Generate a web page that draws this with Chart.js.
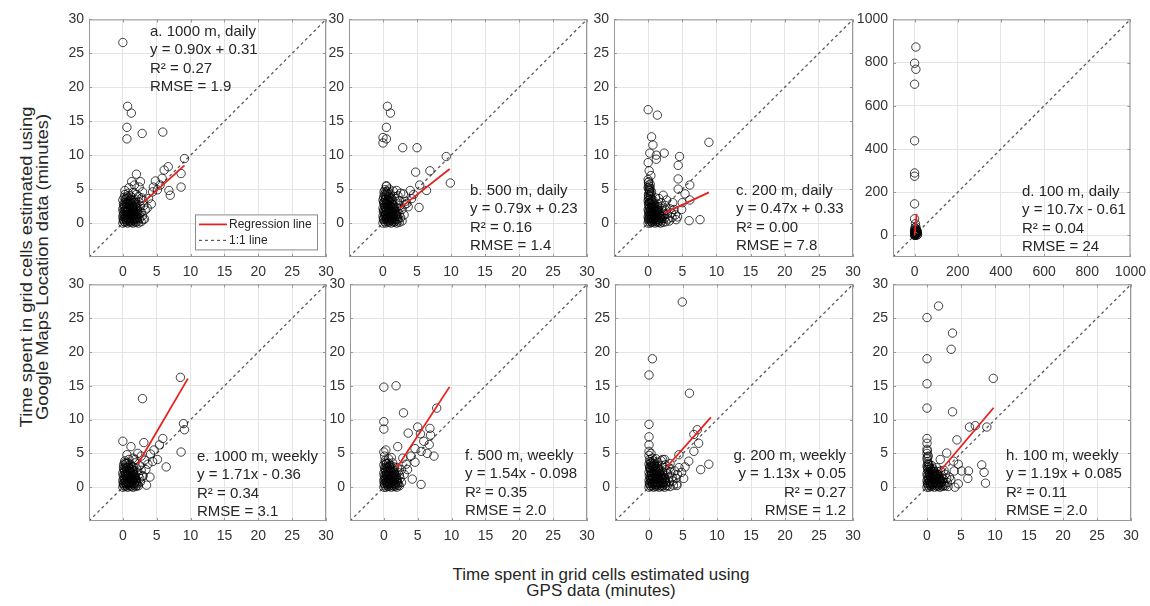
<!DOCTYPE html>
<html>
<head>
<meta charset="utf-8">
<script src="https://cdn.jsdelivr.net/npm/chart.js@4.4.0/dist/chart.umd.min.js"></script>
<style>
  body { margin: 0; width: 1150px; height: 606px; background: #fff; position: relative; overflow: hidden;
         font-family: 'Liberation Sans', Arial, sans-serif; color: #262626; }
  canvas { position: absolute; }
  #xtitle { position: absolute; left: 351px; top: 567px; width: 500px; text-align: center;
            font-size: 17px; line-height: 16px; }
  #ytitle { position: absolute; left: -165px; top: 251px; width: 400px; height: 32px; text-align: center;
            font-size: 17px; line-height: 16px; transform: rotate(-90deg) scaleX(1.08); }
</style>
</head>
<body>
<div id="ytitle">Time spent in grid cells estimated using<br>Google Maps Location data (minutes)</div>
<div id="xtitle">Time spent in grid cells estimated using<br>GPS data (minutes)</div>
<script>
// axis ranges and tick values
const minuteRange = [-5, 30];
const wideRange = [-100, 1000];
const minuteTicks = [0, 5, 10, 15, 20, 25, 30];
const wideTicks = [0, 200, 400, 600, 800, 1000];

// panel captions and fit statistics
const panelLabels = ['a. 1000 m, daily', 'b. 500 m, daily', 'c. 200 m, daily', 'd. 100 m, daily',
                     'e. 1000 m, weekly', 'f. 500 m, weekly', 'g. 200 m, weekly', 'h. 100 m, weekly'];
const eqLabels = ['y = 0.90x + 0.31', 'y = 0.79x + 0.23', 'y = 0.47x + 0.33', 'y = 10.7x - 0.61',
                  'y = 1.71x - 0.36', 'y = 1.54x - 0.098', 'y = 1.13x + 0.05', 'y = 1.19x + 0.085'];
const r2Labels = ['R² = 0.27', 'R² = 0.16', 'R² = 0.00', 'R² = 0.04', 'R² = 0.34', 'R² = 0.35', 'R² = 0.27', 'R² = 0.11'];
const rmseLabels = ['RMSE = 1.9', 'RMSE = 1.4', 'RMSE = 7.8', 'RMSE = 24', 'RMSE = 3.1', 'RMSE = 2.0', 'RMSE = 1.2', 'RMSE = 2.0'];
const slopes = [0.90, 0.79, 0.47, 10.7, 1.71, 1.54, 1.13, 1.19];
const intercepts = [0.31, 0.23, 0.33, -0.61, -0.36, -0.098, 0.05, 0.085];
const fitFrom = [3.0, 2.4, 2.4, 0, 2.2, 1.9, 2.5, 2.0];
const fitTo = [9.1, 9.8, 8.9, 9.4, 9.6, 9.7, 9.1, 9.8];
const legendLabels = ['Regression line', '1:1 line'];

// GPS minutes vs Google Maps minutes, one pair per grid cell
const ptsA = [
  [0,26.6],[0.7,17.2],[1.25,16.2],[0.6,14.1],[0.6,12.4],[2.85,13.2],[5.9,13.4],[9.1,9.5],[6.7,8.3],[6.1,7.8],
  [8.6,7.3],[8.6,5.3],[6.8,4.8],[7.0,4.1],[4.8,6.2],[2.0,7.2],[1.3,6.1],[2.6,6.1],[3.2,0.6],[5.5,5.6],
  [5.1,4.9],[4.4,4.6],[3.8,3.6],[4.2,2.8],[3.6,2.2],[4.5,5.3],[5.8,6.6],[2.4,5.3],[1.7,5.6],[0.9,5.2],
  [0.3,4.8],[2.9,4.6],
  [0,0],[0.3,0.1],[0.7,0],[1.1,0.1],[1.5,0],[1.9,0.1],[2.3,0],[2.7,0.2],
  [0.1,0.5],[0.5,0.4],[0.9,0.6],[1.3,0.4],[1.7,0.6],[2.1,0.5],[2.5,0.7],[3.0,0.5],
  [0,1.0],[0.4,0.9],[0.8,1.1],[1.2,1.0],[1.6,1.2],[2.0,1.0],[2.4,1.3],[2.9,1.1],
  [0.2,1.5],[0.6,1.6],[1.0,1.4],[1.4,1.7],[1.8,1.5],[2.2,1.8],[2.7,1.6],[3.3,1.9],
  [0,2.1],[0.4,2.0],[0.8,2.3],[1.2,2.1],[1.6,2.4],[2.1,2.2],[2.6,2.5],[3.1,2.6],
  [0.2,2.7],[0.6,2.9],[1.0,2.7],[1.5,3.0],[1.9,2.8],[2.4,3.1],[3.0,3.3],
  [0,3.4],[0.5,3.6],[0.9,3.3],[1.3,3.8],[1.8,3.5],[2.3,3.9],[2.8,3.7],
  [0.3,4.2],[0.8,4.4],[1.5,4.5],[2.0,4.2],
  [0.15,0.25],[0.55,0.2],[0.95,0.3],[1.35,0.2],[1.75,0.3],[2.15,0.25],[0.25,0.75],[0.65,0.7],[1.05,0.8],
  [1.45,0.75],[1.85,0.8],[2.25,0.85],[0.1,1.25],[0.5,1.2],[0.9,1.3],[1.3,1.25],[1.7,1.35],[2.1,1.3],
  [0.3,1.8],[0.7,1.85],[1.1,1.8],[1.5,1.9],[1.9,2.0],[0.15,2.4],[0.55,2.45],[0.95,2.5],[1.35,2.35],
  [1.75,2.6],[0.35,3.1],[0.75,3.15],[1.15,3.05],[1.6,3.3],[0.2,3.8],[0.65,3.95],[1.1,4.0],
  [0.05,0.6],[0.45,0.55],[0.85,0.45],[1.25,0.65],[1.65,0.5],[2.05,0.7],[0.3,1.1],[0.7,1.25],[1.1,1.15],
  [1.5,1.05],[1.9,1.2],[0.05,1.7],[0.45,1.65],[0.85,1.75],[1.25,1.6],[1.65,1.8],[2.05,1.65],[0.3,2.25],
  [0.7,2.15],[1.1,2.3],[1.5,2.2],[1.95,2.45],[0.1,2.85],[0.5,2.8],[0.9,2.95],[1.3,2.85],[1.75,3.05],
  [0.4,3.5],[0.8,3.7],[1.2,3.45]
];
const ptsB = [
  [0.65,17.2],[1.1,16.2],[0.5,14.1],[0,12.6],[0.5,12.4],[0,11.8],[2.9,11.1],[5.0,11.1],[9.3,9.8],[9.9,5.9],
  [6.9,7.7],[4.8,7.5],[5.4,5.6],[6.4,4.8],[5.3,2.3],[3.7,2.4],[0.5,5.5],[3.0,4.3],[4.2,3.6],[3.3,3.2],
  [2.6,4.4],[4.5,4.2],[3.5,2.9],[4.0,4.8],
  [0,0],[0.4,0],[0.8,0.1],[1.2,0],[1.6,0.1],[2.0,0],[2.4,0.1],[2.8,0.3],
  [0.1,0.5],[0.5,0.6],[0.9,0.4],[1.3,0.6],[1.7,0.5],[2.2,0.6],[2.6,0.8],
  [0,1.0],[0.3,1.1],[0.7,0.9],[1.1,1.2],[1.5,1.0],[1.9,1.1],[2.4,1.3],[3.1,1.2],
  [0.2,1.6],[0.6,1.5],[1.0,1.7],[1.4,1.6],[1.8,1.8],[2.2,1.7],[2.8,2.0],
  [0,2.2],[0.4,2.1],[0.8,2.3],[1.2,2.2],[1.6,2.5],[2.0,2.3],[2.5,2.6],[3.2,2.7],
  [0.2,2.8],[0.6,2.9],[1.0,3.0],[1.4,2.8],[1.9,3.2],[2.4,3.3],
  [0,3.4],[0.4,3.6],[0.8,3.5],[1.2,3.7],[1.7,3.9],[2.2,4.0],
  [0.2,4.2],[0.6,4.4],[1.1,4.3],[0.3,4.9],[0.9,5.0],[1.5,4.7],[0.5,5.4],[2.0,4.8],
  [0.2,0.25],[0.6,0.3],[1.0,0.2],[1.4,0.3],[1.8,0.25],[2.2,0.3],[0.15,0.8],[0.55,0.75],[0.95,0.85],
  [1.35,0.8],[1.75,0.9],[2.15,0.95],[0.4,1.35],[0.8,1.4],[1.2,1.3],[1.6,1.45],[2.0,1.4],[0.1,1.9],
  [0.5,1.85],[0.9,2.0],[1.3,1.95],[1.7,2.1],[0.25,2.5],[0.65,2.6],[1.05,2.55],[1.45,2.65],[0.15,3.1],
  [0.55,3.2],[0.95,3.3],[1.4,3.35],[0.1,3.8],[0.5,3.95],[0.9,3.9],[0.15,4.6],[0.7,4.7],
  [0.05,0.6],[0.45,0.5],[0.85,0.6],[1.25,0.45],[1.65,0.65],[2.05,0.55],[0.3,1.2],[0.7,1.15],[1.1,1.05],
  [1.5,1.2],[1.9,1.25],[0.05,1.65],[0.45,1.75],[0.85,1.6],[1.25,1.8],[1.65,1.7],[0.3,2.3],[0.7,2.2],
  [1.1,2.35],[1.5,2.3],[0.1,2.95],[0.45,2.85],[0.85,2.75],[1.25,3.0],[0.3,3.45],[0.7,3.3],[1.05,3.55],
  [0.35,4.05],[0.8,4.15],[0.45,4.6]
];
const ptsC = [
  [0,16.7],[1.35,15.9],[0.5,12.7],[0.7,11.5],[0.25,10.3],[1.2,10.0],[1.2,9.4],[2.35,10.3],[0,8.9],[0.15,7.7],
  [4.6,9.8],[4.4,8.5],[4.4,6.5],[6.1,5.6],[8.9,11.9],[4.4,5.0],[5.4,4.3],[6.1,3.4],[4.9,2.0],[4.1,0.5],
  [6.0,0.35],[7.6,0.5],[2.2,4.1],[0,6.4],[0.4,7.0],[5.0,3.0],[3.6,3.0],
  [0,0],[0.3,0],[0.6,0.1],[1.0,0],[1.4,0.1],[1.8,0],[2.2,0.1],[2.6,0.2],[3.1,0.3],
  [0.1,0.5],[0.4,0.4],[0.8,0.6],[1.2,0.5],[1.6,0.4],[2.0,0.6],[2.4,0.7],[2.9,0.6],[3.5,0.8],
  [0,0.9],[0.3,1.0],[0.7,1.1],[1.1,0.9],[1.5,1.1],[1.9,1.0],[2.3,1.2],[2.8,1.3],[3.4,1.5],[4.0,1.2],
  [0.2,1.5],[0.5,1.6],[0.9,1.4],[1.3,1.7],[1.7,1.5],[2.1,1.8],[2.6,1.9],[3.2,2.1],
  [0,2.0],[0.4,2.1],[0.8,2.3],[1.2,2.0],[1.6,2.4],[2.0,2.2],[2.5,2.6],
  [0.1,2.7],[0.5,2.6],[0.9,2.9],[1.4,2.8],[1.9,3.0],
  [0,3.3],[0.3,3.5],[0.7,3.4],[1.1,3.7],[0.1,4.0],[0.4,4.3],[0.2,4.8],[0,5.2],[0.3,5.7],[0.1,6.1],
  [0.5,4.6],[1.6,3.6],[0.2,3.0],[3.8,2.0],[4.3,0.9],[2.7,3.4],
  [0.15,0.25],[0.5,0.2],[0.85,0.3],[1.2,0.25],[1.6,0.2],[2.0,0.3],[0.2,0.75],[0.55,0.8],[0.95,0.75],
  [1.3,0.85],[1.7,0.8],[2.1,0.9],[0.1,1.25],[0.45,1.3],[0.85,1.2],[1.2,1.3],[1.6,1.35],[0.3,1.8],
  [0.7,1.85],[1.05,1.75],[1.45,1.9],[0.15,2.35],[0.6,2.4],[1.0,2.45],[0.25,3.0],[0.6,3.1],[0.05,3.7],
  [0.35,4.0],[0.15,4.45],[0.05,5.6],[0.3,5.1],
  [0.05,0.6],[0.4,0.65],[0.75,0.5],[1.1,0.7],[1.45,0.55],[1.85,0.7],[0.25,1.1],[0.6,1.2],[1.0,1.05],
  [1.35,1.15],[1.75,1.1],[0.05,1.7],[0.4,1.75],[0.75,1.65],[1.15,1.85],[0.2,2.2],[0.55,2.25],[0.9,2.15],
  [1.35,2.3],[0.05,2.9],[0.4,2.85],[0.75,2.7],[0.15,3.5],[0.5,3.45],[0.05,4.2],[0.25,4.7],[0.1,5.0],
  [0.2,5.4],[0.05,6.0]
];
const ptsD = [
  [6,872],[0,797],[6,769],[0,700],[0,438],[0,289],[0,274],[0,146],[0,77],[4,54],
  [0,0],[3,3],[7,6],[10,1],[14,4],[2,12],[8,14],[12,18],[5,22],[0,25],[9,28],[2,35],[6,40],[1,8],[4,1],
  [1,2],[5,9],[11,10],[3,16],[7,20],[13,12],[0,18],[4,30],[10,22],[2,6]
];
const ptsE = [
  [8.5,16.25],[2.9,13.1],[8.95,9.4],[9.1,8.5],[8.6,5.2],[6.4,3.0],[0,6.8],[1.2,6.0],[3.1,6.6],[5.9,7.2],
  [5.4,6.25],[4.6,5.5],[4.1,4.9],[2.7,4.6],[1.8,4.1],[5.1,4.1],[3.7,3.4],[3.0,1.7],[3.4,2.6],[4.4,3.8],
  [3.2,4.0],[2.2,5.0],[0.6,4.8],[4.0,1.5],[3.5,0.3],
  [0,0],[0.3,0.1],[0.7,0],[1.1,0.1],[1.5,0],[1.9,0.1],[2.3,0.2],
  [0.1,0.5],[0.5,0.4],[0.9,0.6],[1.3,0.5],[1.7,0.6],[2.1,0.5],[2.6,0.8],
  [0,1.0],[0.4,0.9],[0.8,1.1],[1.2,1.0],[1.6,1.2],[2.0,1.0],[2.5,1.3],
  [0.2,1.5],[0.6,1.6],[1.0,1.4],[1.4,1.7],[1.8,1.5],[2.3,1.8],[2.9,1.6],
  [0,2.1],[0.4,2.0],[0.8,2.3],[1.2,2.1],[1.6,2.4],[2.1,2.2],[2.7,2.5],
  [0.2,2.7],[0.6,2.9],[1.0,2.7],[1.5,3.0],[2.0,2.8],[2.5,3.2],
  [0.1,3.3],[0.5,3.5],[1.1,3.4],[1.8,3.6],[0.3,3.9],[0.9,4.1],[1.5,4.3],
  [0.15,0.25],[0.5,0.2],[0.9,0.3],[1.3,0.2],[1.7,0.3],[2.1,0.25],[0.25,0.75],[0.65,0.7],[1.05,0.8],
  [1.45,0.85],[1.85,0.8],[0.15,1.25],[0.55,1.3],[0.95,1.2],[1.35,1.35],[1.75,1.3],[0.35,1.8],[0.75,1.85],
  [1.15,1.75],[1.55,1.95],[0.2,2.4],[0.6,2.45],[1.0,2.35],[1.4,2.55],[0.35,3.0],[0.8,3.15],[0.25,3.6],
  [0.05,0.6],[0.45,0.55],[0.85,0.45],[1.25,0.65],[1.65,0.5],[2.05,0.7],[0.3,1.1],[0.7,1.25],[1.1,1.15],
  [1.5,1.05],[1.9,1.2],[0.05,1.7],[0.45,1.65],[0.85,1.75],[1.25,1.6],[1.65,1.8],[0.3,2.25],[0.7,2.15],
  [1.1,2.3],[1.5,2.2],[0.1,2.85],[0.5,2.8],[0.9,2.95],[1.3,2.85],[0.4,3.45],[0.75,3.55]
];
const ptsF = [
  [0,14.8],[1.8,15.0],[0,9.7],[0,8.6],[2.9,11.0],[7.8,11.7],[3.6,8.0],[5.0,8.9],[5.4,7.9],[6.8,8.7],
  [6.9,7.7],[6.7,6.3],[5.5,5.3],[6.4,5.0],[7.4,4.6],[2.05,6.0],[0.3,5.5],[4.0,4.6],[3.3,3.4],[4.2,1.2],
  [5.5,0.4],[3.5,2.6],[0,5.2],[2.8,4.3],[4.6,3.7],[3.0,1.9],[4.6,5.7],[5.9,6.8],
  [0,0],[0.3,0],[0.7,0.1],[1.1,0],[1.5,0.1],[1.9,0],[2.3,0.2],
  [0.1,0.5],[0.5,0.4],[0.9,0.6],[1.3,0.5],[1.7,0.4],[2.1,0.6],[2.6,0.7],
  [0,1.0],[0.4,0.9],[0.8,1.1],[1.2,1.0],[1.6,1.2],[2.0,1.0],[2.4,1.3],
  [0.2,1.5],[0.6,1.6],[1.0,1.4],[1.4,1.7],[1.8,1.5],[2.3,1.8],
  [0,2.1],[0.4,2.0],[0.8,2.3],[1.2,2.1],[1.6,2.4],[2.1,2.2],[2.6,2.6],
  [0.2,2.7],[0.6,2.9],[1.0,2.7],[1.5,3.0],[2.0,2.9],
  [0,3.3],[0.4,3.5],[0.9,3.3],[1.3,3.6],[0.2,4.0],[0.7,4.2],[0.1,4.6],[1.1,4.4],
  [0.15,0.25],[0.55,0.2],[0.95,0.3],[1.35,0.25],[1.75,0.2],[2.1,0.3],[0.25,0.75],[0.65,0.8],[1.05,0.7],
  [1.45,0.85],[1.85,0.8],[0.1,1.25],[0.5,1.3],[0.9,1.2],[1.3,1.35],[1.7,1.3],[0.35,1.8],[0.75,1.85],
  [1.15,1.75],[1.55,1.95],[0.2,2.4],[0.6,2.45],[1.0,2.35],[1.4,2.5],[0.35,3.0],[0.8,3.1],[0.2,3.7],
  [0.05,0.6],[0.45,0.55],[0.8,0.45],[1.2,0.65],[1.6,0.55],[2.0,0.7],[0.3,1.15],[0.7,1.2],[1.1,1.1],
  [1.5,1.05],[1.9,1.2],[0.05,1.7],[0.45,1.65],[0.85,1.75],[1.25,1.6],[1.65,1.8],[0.3,2.25],[0.7,2.15],
  [1.1,2.3],[1.5,2.2],[0.1,2.85],[0.5,2.8],[0.9,2.95],[1.3,2.85],[0.35,3.45],[0.7,3.55]
];
const ptsG = [
  [4.9,27.4],[0.5,19.0],[0,16.6],[5.95,13.9],[0,9.3],[0,7.45],[0,6.25],[0,5.3],[8.8,3.4],[7.6,2.6],
  [7.3,6.5],[6.6,5.3],[6.6,7.8],[7.1,8.5],[5.85,3.85],[4.4,4.8],[5.1,1.3],[4.1,0.25],[2.0,4.1],[5.3,3.0],
  [4.8,2.2],
  [0,0],[0.3,0.1],[0.7,0],[1.1,0.1],[1.5,0],[1.9,0.1],[2.3,0],[2.7,0.2],[3.1,0.1],[3.6,0.3],[4.1,0.5],
  [0.1,0.5],[0.5,0.6],[0.9,0.4],[1.3,0.6],[1.7,0.5],[2.1,0.7],[2.5,0.6],[3.0,0.8],[3.5,0.9],
  [0,1.0],[0.4,1.1],[0.8,0.9],[1.2,1.2],[1.6,1.0],[2.0,1.2],[2.4,1.1],[2.9,1.4],[3.4,1.5],[4.0,1.3],
  [0.2,1.6],[0.6,1.5],[1.0,1.7],[1.4,1.6],[1.8,1.8],[2.2,1.7],[2.7,2.0],[3.2,2.2],[3.8,2.4],
  [0,2.2],[0.4,2.1],[0.8,2.3],[1.2,2.2],[1.6,2.5],[2.0,2.3],[2.5,2.6],[3.0,2.8],
  [0.2,2.8],[0.6,2.9],[1.0,3.0],[1.4,2.8],[1.9,3.2],[2.4,3.3],[3.1,3.5],
  [0,3.4],[0.4,3.6],[0.8,3.5],[1.3,3.7],[1.8,3.9],[2.3,4.1],
  [0.1,4.1],[0.5,4.3],[0,4.7],[0.3,5.0],[0.1,3.0],[4.4,2.9],[4.2,1.9],[1.0,4.2],
  [0.15,0.25],[0.5,0.3],[0.9,0.2],[1.3,0.3],[1.7,0.25],[2.1,0.3],[2.5,0.25],[0.25,0.8],[0.65,0.75],
  [1.05,0.85],[1.45,0.8],[1.85,0.9],[2.25,0.85],[0.15,1.3],[0.55,1.35],[0.95,1.25],[1.35,1.4],[1.75,1.35],
  [2.2,1.4],[0.35,1.85],[0.75,1.9],[1.15,1.95],[1.6,2.0],[0.2,2.5],[0.6,2.55],[1.0,2.45],[1.4,2.6],
  [0.35,3.2],[0.8,3.2],[0.15,3.8],[0.6,3.9],
  [0.05,0.6],[0.45,0.55],[0.85,0.65],[1.25,0.45],[1.65,0.7],[2.05,0.55],[2.45,0.75],[0.3,1.1],[0.7,1.25],
  [1.1,1.15],[1.5,1.05],[1.9,1.3],[2.3,1.2],[0.05,1.7],[0.45,1.65],[0.85,1.8],[1.25,1.7],[1.65,1.75],
  [2.05,1.9],[0.3,2.25],[0.7,2.15],[1.1,2.35],[1.5,2.3],[0.1,2.85],[0.5,3.05],[0.9,2.75],[1.3,3.1],
  [0.25,3.55],[0.65,3.45]
];
const ptsH = [
  [1.7,26.8],[0,25.1],[3.75,22.8],[3.55,20.4],[0,19.0],[0,15.3],[0,11.7],[3.75,11.15],[9.75,16.1],[6.25,8.9],
  [7.1,9.1],[8.8,8.9],[4.4,7.0],[2.9,5.05],[1.95,4.1],[4.6,3.4],[5.1,2.4],[6.1,2.4],[6.0,1.3],[8.05,3.3],
  [8.4,2.2],[8.6,0.6],[4.1,0],[4.6,0.5],[0,7.2],[0,6.5],[0,5.6],[3.9,3.85],[3.3,1.5],[4.0,2.4],
  [0,0],[0.3,0],[0.7,0.1],[1.1,0],[1.5,0.1],[1.9,0],[2.3,0.1],[2.7,0.2],[3.1,0.1],
  [0.1,0.5],[0.5,0.4],[0.9,0.6],[1.3,0.5],[1.7,0.4],[2.1,0.6],[2.5,0.5],[3.0,0.7],
  [0,1.0],[0.4,0.9],[0.8,1.1],[1.2,1.0],[1.6,1.2],[2.0,1.0],[2.4,1.2],[2.9,1.3],[3.5,1.1],
  [0.2,1.5],[0.6,1.6],[1.0,1.4],[1.4,1.7],[1.8,1.5],[2.2,1.7],[2.7,1.9],
  [0,2.0],[0.4,2.1],[0.8,2.3],[1.2,2.0],[1.6,2.3],[2.0,2.4],[2.5,2.5],
  [0.1,2.6],[0.5,2.8],[0.9,2.7],[1.4,2.9],
  [0,3.1],[0.3,3.4],[0.1,3.8],[0,4.2],[0.2,4.6],[0,5.0],[0.3,3.0],[0.7,3.2],
  [0.15,0.25],[0.5,0.2],[0.9,0.3],[1.3,0.25],[1.7,0.2],[2.1,0.3],[2.5,0.25],[0.25,0.75],[0.65,0.8],
  [1.05,0.75],[1.45,0.85],[1.85,0.8],[2.25,0.9],[0.15,1.25],[0.55,1.3],[0.95,1.2],[1.35,1.3],[1.75,1.25],
  [0.35,1.8],[0.75,1.85],[1.15,1.75],[1.55,1.9],[0.2,2.35],[0.6,2.4],[1.0,2.3],[0.15,3.3],[0.05,5.4],
  [0.05,0.6],[0.45,0.55],[0.85,0.45],[1.25,0.65],[1.65,0.55],[2.05,0.7],[0.3,1.1],[0.7,1.25],[1.1,1.15],
  [1.5,1.05],[1.9,1.2],[0.05,1.7],[0.45,1.65],[0.85,1.75],[1.25,1.6],[1.65,1.85],[0.3,2.2],[0.7,2.15],
  [1.1,2.35],[0.1,2.9],[0.5,2.65],[0.15,3.55],[0.05,4.5]
];
const allPoints = [ptsA, ptsB, ptsC, ptsD, ptsE, ptsF, ptsG, ptsH];

// plot-area boxes [left, top, width, height] and caption placement
const boxes = [[89,16,237,241],[349,16,238,241],[614,16,239,241],[893,16,238,241],
               [89,281,237,240],[350,281,237,240],[615,281,238,240],[893,281,238,240]];
const notePos = [{x:61,y:12},{x:121,y:171},{x:122,y:171},{x:129,y:172},
                 {x:108,y:172},{x:115,y:171},{x:-7,y:171,right:true},{x:113,y:171}];

const FONT = "'Liberation Sans', Arial, sans-serif";
const TEXT = '#262626';
const FIT_RED = '#e8211e';
const ONE_TO_ONE = '#5a5a5a';
Chart.defaults.font.family = FONT;

// box, inward ticks, caption block and (panel a) legend
const framePlugin = {
  id: 'frame',
  afterDatasetsDraw(chart, args, opts) {
    const { ctx, chartArea: a, scales } = chart;
    ctx.save();
    ctx.strokeStyle = '#979797';
    ctx.lineWidth = 1;
    ctx.strokeRect(a.left + 0.5, a.top + 0.5, a.right - a.left - 1, a.bottom - a.top - 1);
    ctx.beginPath();
    scales.x.ticks.forEach(t => {
      const px = Math.round(scales.x.getPixelForValue(t.value)) + 0.5;
      ctx.moveTo(px, a.bottom); ctx.lineTo(px, a.bottom - 3);
      ctx.moveTo(px, a.top); ctx.lineTo(px, a.top + 3);
    });
    scales.y.ticks.forEach(t => {
      const py = Math.round(scales.y.getPixelForValue(t.value)) + 0.5;
      ctx.moveTo(a.left, py); ctx.lineTo(a.left + 3, py);
      ctx.moveTo(a.right, py); ctx.lineTo(a.right - 3, py);
    });
    ctx.stroke();

    ctx.fillStyle = TEXT;
    ctx.font = '15px ' + FONT;
    ctx.textBaseline = 'middle';
    ctx.textAlign = opts.right ? 'right' : 'left';
    const tx = opts.right ? a.right + opts.x : a.left + opts.x;
    opts.lines.forEach((s, k) => ctx.fillText(s, tx, a.top + opts.y + k * 18.5));

    if (opts.legend) {
      const bx = a.left + 106, by = a.top + 195, bw = 122, bh = 35;
      ctx.fillStyle = '#fff';
      ctx.fillRect(bx, by, bw, bh);
      ctx.strokeStyle = '#8a8a8a';
      ctx.strokeRect(bx + 0.5, by + 0.5, bw, bh);
      ctx.lineWidth = 1.8;
      ctx.strokeStyle = FIT_RED;
      ctx.beginPath(); ctx.moveTo(bx + 4, by + 10); ctx.lineTo(bx + 32, by + 10); ctx.stroke();
      ctx.lineWidth = 1.2;
      ctx.strokeStyle = ONE_TO_ONE;
      ctx.setLineDash([3, 3]);
      ctx.beginPath(); ctx.moveTo(bx + 4, by + 26); ctx.lineTo(bx + 32, by + 26); ctx.stroke();
      ctx.setLineDash([]);
      ctx.fillStyle = TEXT;
      ctx.font = '12px ' + FONT;
      ctx.textAlign = 'left';
      ctx.fillText(legendLabels[0], bx + 34, by + 10);
      ctx.fillText(legendLabels[1], bx + 34, by + 26);
    }
    ctx.restore();
  }
};

function makePanel(i) {
  const [L, T, W, H] = boxes[i];
  const wide = i === 3;
  const range = wide ? wideRange : minuteRange;
  const tickVals = wide ? wideTicks : minuteTicks;
  const yw = wide ? 40 : 30, pt = 10, pr = 22, xh = 28;

  const cv = document.createElement('canvas');
  cv.width = yw + W + pr;
  cv.height = pt + H + xh;
  cv.style.left = (L - yw) + 'px';
  cv.style.top = (T - pt) + 'px';
  document.body.appendChild(cv);

  const axis = (pos) => ({
    type: 'linear',
    position: pos,
    min: range[0],
    max: range[1],
    afterBuildTicks: s => { s.ticks = tickVals.map(v => ({ value: v })); },
    afterFit: s => { if (pos === 'left') s.width = yw; else s.height = xh; },
    grid: { color: '#e4e4e4', lineWidth: 1, drawTicks: false },
    border: { display: false },
    ticks: {
      padding: pos === 'left' ? 5 : 7,
      color: '#333',
      autoSkip: false,
      maxRotation: 0,
      font: { size: 14 },
      callback: v => String(v)
    }
  });

  const x0 = fitFrom[i], x1 = fitTo[i];
  new Chart(cv, {
    type: 'scatter',
    data: {
      datasets: [
        {
          type: 'line',
          data: [{ x: x0, y: slopes[i] * x0 + intercepts[i] }, { x: x1, y: slopes[i] * x1 + intercepts[i] }],
          borderColor: FIT_RED, borderWidth: 1.8, pointRadius: 0, order: 0
        },
        {
          data: allPoints[i].map(([x, y]) => ({ x, y })),
          pointRadius: 4.2, borderWidth: 1,
          borderColor: 'rgba(0,0,0,0.74)', backgroundColor: 'rgba(0,0,0,0)', order: 1
        },
        {
          type: 'line',
          data: [{ x: range[0], y: range[0] }, { x: range[1], y: range[1] }],
          borderColor: ONE_TO_ONE, borderWidth: 1.3, borderDash: [3, 3], pointRadius: 0, order: 2
        }
      ]
    },
    options: {
      responsive: false,
      animation: false,
      devicePixelRatio: 1,
      layout: { padding: { top: pt, right: pr, left: 0, bottom: 0 } },
      plugins: {
        legend: { display: false },
        tooltip: { enabled: false },
        frame: {
          lines: [panelLabels[i], eqLabels[i], r2Labels[i], rmseLabels[i]],
          x: notePos[i].x, y: notePos[i].y, right: !!notePos[i].right,
          legend: i === 0
        }
      },
      scales: { x: axis('bottom'), y: axis('left') }
    },
    plugins: [framePlugin]
  });
}

for (let i = 0; i < 8; i++) makePanel(i);
</script>
</body>
</html>
